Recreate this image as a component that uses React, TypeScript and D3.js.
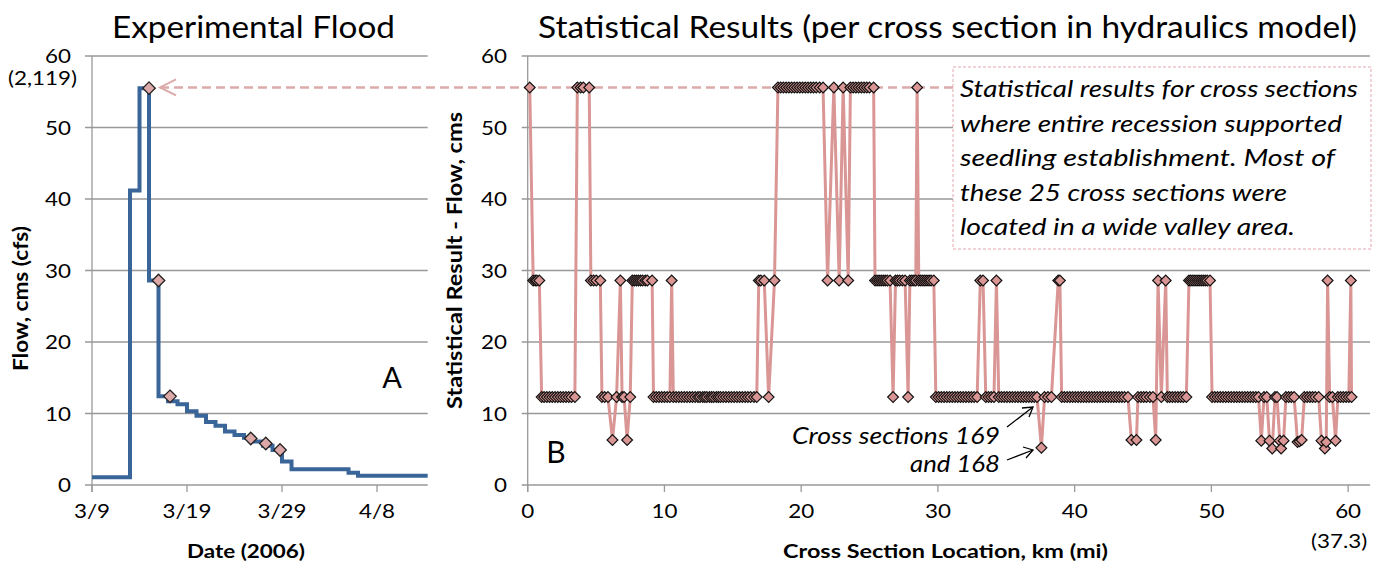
import React from 'react';
import * as d3 from 'd3';

// Panel A - experimental flood hydrograph, step changes (cms)
const flowDates = ['2006-03-09', '2006-03-13', '2006-03-14', '2006-03-15', '2006-03-16', '2006-03-17', '2006-03-18',
  '2006-03-19', '2006-03-20', '2006-03-21', '2006-03-22', '2006-03-23', '2006-03-24', '2006-03-25', '2006-03-26',
  '2006-03-27', '2006-03-28', '2006-03-29', '2006-03-30', '2006-04-05', '2006-04-06', '2006-04-13T08:00'];
const flowValues = [1.1, 41.2, 55.5, 28.6, 12.4, 11.7, 11.3, 10.3, 9.7, 8.8, 8.3, 7.5, 7.0, 6.6, 6.1, 5.5, 4.9,
  3.3, 2.2, 1.7, 1.3, 1.3];

// statistical results marked on the hydrograph
const markerDates = ['2006-03-15', '2006-03-16', '2006-03-17T05:00', '2006-03-25T17:00', '2006-03-27T07:00', '2006-03-28T19:00'];
const markerValues = [55.5, 28.6, 12.4, 6.5, 5.8, 4.9];

const dateTicks = ['2006-03-09', '2006-03-19', '2006-03-29', '2006-04-08'];
const flowTicks = [0, 10, 20, 30, 40, 50, 60];
const kmTicks = [0, 10, 20, 30, 40, 50, 60];

// Panel B - result per cross section [km, cms]
const reachUpper: [number, number][] = [
  [0.15, 55.6], [0.4, 28.6], [0.55, 28.6], [0.67, 28.6], [0.85, 28.6],
  [1.02, 12.3], [1.2, 12.3], [1.4, 12.3], [1.6, 12.3], [1.8, 12.3], [2.0, 12.3], [2.2, 12.3], [2.4, 12.3],
  [2.6, 12.3], [2.8, 12.3], [3.0, 12.3], [3.2, 12.3], [3.45, 12.3],
  [3.63, 55.6], [3.87, 55.6], [4.07, 55.6], [4.5, 55.6],
  [4.62, 28.6], [4.82, 28.6], [5.02, 28.6], [5.31, 28.6],
  [5.43, 12.3], [5.63, 12.3], [5.87, 12.3], [6.2, 6.3], [6.5, 12.3], [6.78, 28.6], [6.9, 12.3], [7.05, 12.3],
  [7.27, 6.3], [7.5, 12.3],
  [7.65, 28.6], [7.8, 28.6], [7.95, 28.6], [8.1, 28.6], [8.25, 28.6], [8.4, 28.6], [8.6, 28.6], [8.75, 28.6], [9.1, 28.6],
  [9.2, 12.3], [9.4, 12.3], [9.6, 12.3], [9.8, 12.3], [10.0, 12.3], [10.2, 12.3], [10.4, 12.3], [10.53, 28.6],
  [10.65, 12.3], [10.85, 12.3], [11.05, 12.3], [11.25, 12.3], [11.45, 12.3], [11.65, 12.3], [11.85, 12.3],
  [12.05, 12.3], [12.25, 12.3], [12.45, 12.3], [12.6, 12.3], [12.8, 12.3], [12.95, 12.3], [13.1, 12.3],
  [13.3, 12.3], [13.45, 12.3], [13.6, 12.3], [13.8, 12.3], [13.95, 12.3], [14.1, 12.3], [14.3, 12.3],
  [14.5, 12.3], [14.7, 12.3], [14.9, 12.3], [15.1, 12.3], [15.3, 12.3], [15.5, 12.3], [15.7, 12.3],
  [15.9, 12.3], [16.1, 12.3], [16.3, 12.3], [16.55, 12.3], [16.75, 12.3],
  [16.9, 28.6], [17.05, 28.6], [17.3, 28.6], [17.62, 12.3], [18.05, 28.6],
];
const reachMiddle: [number, number][] = [
  [18.3, 55.6], [18.5, 55.6], [18.7, 55.6], [18.9, 55.6], [19.1, 55.6], [19.3, 55.6], [19.5, 55.6], [19.7, 55.6],
  [19.9, 55.6], [20.1, 55.6], [20.3, 55.6], [20.5, 55.6], [20.7, 55.6], [20.9, 55.6], [21.1, 55.6], [21.35, 55.6],
  [21.6, 55.6], [21.93, 28.6], [22.39, 55.6], [22.78, 28.6], [23.07, 55.6], [23.44, 28.6],
  [23.6, 55.6], [23.8, 55.6], [24.0, 55.6], [24.2, 55.6], [24.4, 55.6], [24.6, 55.6], [24.8, 55.6], [25.0, 55.6], [25.3, 55.6],
  [25.4, 28.6], [25.55, 28.6], [25.7, 28.6], [25.85, 28.6], [26.0, 28.6], [26.15, 28.6], [26.3, 28.6], [26.5, 28.6],
  [26.72, 12.3], [26.9, 28.6], [27.05, 28.6], [27.2, 28.6], [27.4, 28.6], [27.6, 28.6], [27.82, 12.3],
  [27.95, 28.6], [28.1, 28.6], [28.25, 28.6], [28.38, 28.6], [28.48, 55.6],
  [28.6, 28.6], [28.75, 28.6], [28.9, 28.6], [29.05, 28.6], [29.2, 28.6], [29.35, 28.6], [29.5, 28.6], [29.7, 28.6],
  [29.85, 12.3], [30.05, 12.3], [30.25, 12.3], [30.45, 12.3], [30.65, 12.3], [30.85, 12.3], [31.05, 12.3],
  [31.25, 12.3], [31.45, 12.3], [31.65, 12.3], [31.85, 12.3], [32.05, 12.3], [32.25, 12.3], [32.45, 12.3],
  [32.65, 12.3], [32.87, 12.3], [33.1, 28.6], [33.3, 28.6], [33.5, 12.3], [33.7, 12.3], [33.9, 12.3], [34.1, 12.3],
  [34.28, 28.6], [34.45, 12.3], [34.65, 12.3], [34.85, 12.3], [35.05, 12.3], [35.25, 12.3], [35.45, 12.3],
  [35.65, 12.3], [35.85, 12.3], [36.05, 12.3], [36.25, 12.3], [36.45, 12.3], [36.65, 12.3], [36.85, 12.3],
  [37.05, 12.3], [37.25, 12.3], [37.57, 5.2], [37.8, 12.3],
];
const reachLower: [number, number][] = [
  [38.05, 12.3], [38.3, 12.3], [38.8, 28.6], [38.92, 28.6], [39.05, 12.3], [39.25, 12.3], [39.45, 12.3],
  [39.65, 12.3], [39.85, 12.3], [40.05, 12.3], [40.25, 12.3], [40.45, 12.3], [40.65, 12.3], [40.85, 12.3],
  [41.05, 12.3], [41.25, 12.3], [41.45, 12.3], [41.65, 12.3], [41.85, 12.3], [42.05, 12.3], [42.25, 12.3],
  [42.45, 12.3], [42.65, 12.3], [42.85, 12.3], [43.05, 12.3], [43.25, 12.3], [43.45, 12.3], [43.65, 12.3], [43.9, 12.3],
  [44.15, 6.3], [44.52, 6.3], [44.63, 12.3], [44.85, 12.3], [45.05, 12.3], [45.25, 12.3], [45.5, 12.3], [45.73, 12.3],
  [45.93, 6.3], [46.1, 28.6], [46.34, 12.3], [46.66, 28.6], [46.78, 12.3], [46.95, 12.3], [47.15, 12.3],
  [47.35, 12.3], [47.55, 12.3], [47.75, 12.3], [47.95, 12.3], [48.17, 12.3],
  [48.36, 28.6], [48.5, 28.6], [48.65, 28.6], [48.8, 28.6], [48.95, 28.6], [49.1, 28.6], [49.25, 28.6],
  [49.4, 28.6], [49.55, 28.6], [49.7, 28.6], [49.9, 28.6],
  [50.05, 12.3], [50.25, 12.3], [50.45, 12.3], [50.65, 12.3], [50.85, 12.3], [51.05, 12.3], [51.25, 12.3],
  [51.45, 12.3], [51.65, 12.3], [51.85, 12.3], [52.05, 12.3], [52.25, 12.3], [52.45, 12.3], [52.65, 12.3],
  [52.85, 12.3], [53.05, 12.3], [53.25, 12.3], [53.45, 12.3],
  [53.65, 6.2], [53.85, 12.3], [54.05, 12.3], [54.25, 6.2], [54.45, 5.1], [54.65, 12.3], [54.8, 12.3],
  [55.0, 6.2], [55.1, 5.1], [55.28, 6.2], [55.45, 12.3], [55.65, 12.3], [55.85, 12.3], [56.05, 12.3],
  [56.3, 6.0], [56.45, 6.1], [56.6, 6.3], [56.8, 12.3], [57.0, 12.3], [57.2, 12.3], [57.4, 12.3], [57.6, 12.3],
  [57.85, 12.3], [58.05, 6.2], [58.3, 5.1], [58.4, 6.0], [58.5, 28.6], [58.65, 12.3], [58.85, 12.3],
  [59.08, 6.2], [59.25, 12.3], [59.45, 12.3], [59.65, 12.3], [59.85, 12.3], [60.05, 12.3], [60.2, 28.6], [60.25, 12.3],
];

const boxLines = [
  'Statistical results for cross sections',
  'where entire recession supported',
  'seedling establishment.  Most of',
  'these 25 cross sections were',
  'located in a wide valley area.',
];
const boxLineWidths = [398, 382, 375, 327, 335];

const FONT = "Lato, 'Open Sans', sans-serif";
const GRID = '#999999';
const ROSE = '#D99694';
const BLUE = '#3A6598';

// text squeezed/stretched to a given width (start anchored)
function Fit({ x, y, w, size, children, ...rest }: any) {
  return (
    <text x={x} y={y} fontSize={size} textLength={w} lengthAdjust="spacingAndGlyphs" {...rest}>{children}</text>
  );
}

// tick label, widened a little like the original typeface
function Tick({ x, y, anchor, children }: any) {
  return (
    <text transform={`translate(${x},${y}) scale(1.12,1)`} textAnchor={anchor} fontSize={20}>{children}</text>
  );
}

export default function App() {
  const parse = (s: string) => d3.isoParse(s) as Date;
  const y = d3.scaleLinear().domain([0, 60]).range([485, 56]);
  const xA = d3.scaleUtc().domain([parse(flowDates[0]), parse(flowDates[flowDates.length - 1])]).range([92, 427.7]);
  const xB = d3.scaleLinear().domain([0, 61.6]).range([527.7, 1370]);

  const sections = [...reachUpper, ...reachMiddle, ...reachLower];
  const flow = flowDates.map((d, i) => ({ date: parse(d), v: flowValues[i] }));
  const marks = markerDates.map((d, i) => ({ date: parse(d), v: markerValues[i] }));

  const stepLine = d3.line<{ date: Date; v: number }>().x(d => xA(d.date)).y(d => y(d.v)).curve(d3.curveStepAfter);
  const sectionLine = d3.line<[number, number]>().x(d => xB(d[0])).y(d => y(d[1]));
  const bigDiamond = d3.symbol(d3.symbolDiamond2, 100)()!;
  const diamond = d3.symbol(d3.symbolDiamond2, 74)()!;
  const fmtDate = d3.utcFormat('%-m/%-d');

  const peakY = y(55.6);
  const arrowX = xA(marks[0].date) + 17;
  const [x0A, x1A] = xA.range();
  const [x0B, x1B] = xB.range();
  const boxX = 953, boxY = 67, boxW = 418, boxH = 182;

  return (
    <svg width={1381} height={564} style={{ position: 'absolute', left: 0, top: 0, background: '#fff' }} fontFamily={FONT}>
      {/* titles */}
      <Fit x={112} y={38} w={283} size={31}>Experimental Flood</Fit>
      <Fit x={538} y={38} w={819} size={31}>Statistical Results (per cross section in hydraulics model)</Fit>

      {/* panel A grid + axes */}
      {flowTicks.map(t => (
        <g key={'ga' + t}>
          <line x1={x0A - 7} x2={x1A} y1={y(t)} y2={y(t)} stroke={GRID} strokeWidth={1.3} />
          <Tick x={71} y={y(t) + 7} anchor="end">{t}</Tick>
        </g>
      ))}
      <Tick x={77} y={y(60) + 29} anchor="end">(2,119)</Tick>
      <line x1={x0A} x2={x0A} y1={y(60)} y2={y(0) + 7} stroke={GRID} strokeWidth={1.3} />
      {dateTicks.map(t => (
        <g key={t}>
          <line x1={xA(parse(t))} x2={xA(parse(t))} y1={y(0)} y2={y(0) + 7} stroke={GRID} strokeWidth={1.3} />
          <Tick x={xA(parse(t))} y={518} anchor="middle">{fmtDate(parse(t))}</Tick>
        </g>
      ))}
      <Fit x={187} y={558} w={118} size={19} fontWeight="bold">Date (2006)</Fit>
      <g transform="translate(28,299) rotate(-90)">
        <Fit x={-72} y={0} w={145} size={20} fontWeight="bold">Flow, cms (cfs)</Fit>
      </g>

      {/* panel B grid + axes */}
      {flowTicks.map(t => (
        <g key={'gb' + t}>
          <line x1={x0B - 6} x2={x1B} y1={y(t)} y2={y(t)} stroke={GRID} strokeWidth={1.3} />
          <Tick x={507} y={y(t) + 7} anchor="end">{t}</Tick>
        </g>
      ))}
      <line x1={x0B} x2={x0B} y1={y(60)} y2={y(0) + 7} stroke={GRID} strokeWidth={1.3} />
      {kmTicks.map(t => (
        <g key={'k' + t}>
          <line x1={xB(t)} x2={xB(t)} y1={y(0)} y2={y(0) + 7} stroke={GRID} strokeWidth={1.3} />
          <Tick x={xB(t)} y={518} anchor="middle">{t}</Tick>
        </g>
      ))}
      <Tick x={xB(60) - 9} y={548} anchor="middle">(37.3)</Tick>
      <Fit x={783} y={558} w={325} size={19} fontWeight="bold">Cross Section Location, km (mi)</Fit>
      <g transform="translate(462,261) rotate(-90)">
        <Fit x={-148} y={0} w={297} size={20} fontWeight="bold">Statistical Result - Flow, cms</Fit>
      </g>

      {/* peak reference: dashed line with arrow, and annotation box */}
      <line x1={arrowX - 6} x2={boxX} y1={peakY} y2={peakY} stroke="#DDAAAA" strokeWidth={2.5} strokeDasharray="9 5" />
      <polyline points={`${arrowX + 10},${peakY - 8} ${arrowX - 6},${peakY} ${arrowX + 10},${peakY + 8}`} fill="none" stroke="#DDAAAA" strokeWidth={2} />
      <rect x={boxX} y={boxY} width={boxW} height={boxH} fill="#fff" stroke="#E3A7B0" strokeWidth={1} strokeDasharray="3 2" />
      {boxLines.map((l, i) => (
        <Fit key={i} x={boxX + 7} y={boxY + 30 + i * 34.6} w={boxLineWidths[i]} size={23} fontStyle="italic">{l}</Fit>
      ))}

      {/* series */}
      <path d={stepLine(flow)!} fill="none" stroke={BLUE} strokeWidth={4} />
      {marks.map((m, i) => (
        <path key={i} d={bigDiamond} transform={`translate(${xA(m.date)},${y(m.v)})`} fill="#DCA8A8" stroke="#222" strokeWidth={1.3} />
      ))}
      <path d={sectionLine(sections)!} fill="none" stroke={ROSE} strokeWidth={3} />
      {sections.map((s, i) => (
        <path key={i} d={diamond} transform={`translate(${xB(s[0])},${y(s[1])})`} fill={ROSE} stroke="#111" strokeWidth={1.2} />
      ))}

      {/* panel letters and callouts */}
      <text x={392} y={388} textAnchor="middle" fontSize={29}>A</text>
      <text x={556} y={463} textAnchor="middle" fontSize={30}>B</text>
      <Fit x={792} y={444} w={208} size={23} fontStyle="italic">Cross sections 169</Fit>
      <Fit x={910} y={472} w={90} size={23} fontStyle="italic">and 168</Fit>
      <g stroke="#000" strokeWidth={1.3} fill="none">
        <line x1={1007} y1={427} x2={1033} y2={407} />
        <polyline points="1022,408 1033,407 1029,417" />
        <line x1={1007} y1={460} x2={1033} y2={450} />
        <polyline points="1023,447 1033,450 1026,458" />
      </g>
    </svg>
  );
}
